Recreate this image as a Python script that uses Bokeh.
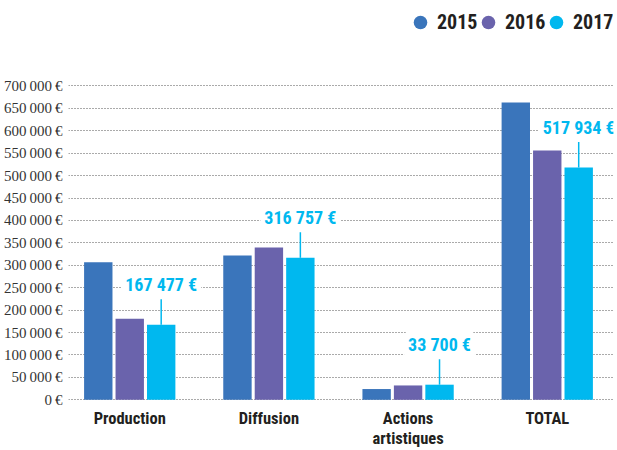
from bokeh.plotting import figure
from bokeh.models import (ColumnDataSource, FactorRange, Range1d, FixedTicker,
                          LabelSet, Legend, LegendItem)
from bokeh.core.properties import value
from bokeh.transform import dodge
from bokeh.embed import file_html
from bokeh.resources import INLINE

categories = ["Production", "Diffusion", "Actions\nartistiques", "TOTAL"]
years = ["2015", "2016", "2017"]
v2015 = [307000, 322000, 24000, 663000]
v2016 = [181000, 340000, 32000, 556000]
v2017 = [167477, 316757, 33700, 517934]
y_ticks = [0, 50000, 100000, 150000, 200000, 250000, 300000, 350000,
           400000, 450000, 500000, 550000, 600000, 650000, 700000]

colors = ["#3a75bb", "#6a63ac", "#00b8ef"]
DARK = "#231f20"
F_AXIS = "Liberation Sans Narrow"
F_BOLD = "Roboto Condensed"


def fmt(v):
    return f"{v:,}".replace(",", " ")


source = ColumnDataSource(dict(
    cat=categories,
    y2015=v2015,
    y2016=v2016,
    y2017=v2017,
    zero=[0] * len(categories),
    line_top=[v + 58000 for v in v2017],
    label=[fmt(v) + " €" for v in v2017],
))

W, H = 617, 450
xr = FactorRange(*categories, range_padding=-0.042, range_padding_units="absolute")
p = figure(x_range=xr, y_range=Range1d(-113094, 890698),
           width=W, height=H, output_backend="svg", toolbar_location=None,
           min_border_left=68, min_border_right=4, min_border_top=0,
           min_border_bottom=0)
p.outline_line_color = None
p.background_fill_color = "white"
p.border_fill_color = "white"

step = 0.226
bw = 0.204
shift = -0.018
for off, col, c in zip([-step, 0, step], ["y2015", "y2016", "y2017"], colors):
    p.vbar(x=dodge("cat", off + shift, range=p.x_range), top=col, width=bw,
           source=source, fill_color=c, line_color=None)

# annotation lines and labels for 2017
x17 = dodge("cat", step + shift, range=p.x_range)
p.segment(x0=x17, y0="y2017", x1=x17, y1="line_top",
          source=source, line_color=colors[2], line_width=1.5)
labels = LabelSet(x=x17, y="line_top", text="label",
                  source=source, y_offset=14, text_align="center",
                  text_baseline="middle", text_font=value(F_BOLD),
                  text_font_style="bold", text_font_size="18px",
                  text_color=colors[2],
                  background_fill_color="white", border_line_color="white",
                  border_line_width=8)
p.add_layout(labels)

# category labels under the bars
p.text(x=dodge("cat", shift, range=p.x_range), y="zero", text="cat", source=source,
       y_offset=9, text_align="center", text_baseline="top",
       text_font=value(F_BOLD), text_font_style="bold", text_font_size="16.5px",
       text_color=DARK, text_line_height=1.05)

# axes
p.xaxis.visible = False
p.xgrid.grid_line_color = None
p.ygrid.grid_line_color = "#555555"
p.ygrid.grid_line_dash = "1 2"
p.ygrid.grid_line_width = 1

p.yaxis.ticker = FixedTicker(ticks=y_ticks)
p.yaxis.major_label_overrides = {t: fmt(t).replace(" ", "\u2009") + "\u2009€" for t in y_ticks}
p.yaxis.axis_line_color = None
p.yaxis.major_tick_line_color = None
p.yaxis.minor_tick_line_color = None
p.yaxis.major_label_standoff = 0
p.yaxis.major_label_text_font = F_AXIS
p.yaxis.major_label_text_font_size = "15px"
p.yaxis.major_label_text_color = "#333333"
p.yaxis.major_label_text_baseline = "alphabetic"

# legend: one small legend per year, circles carried by zero-size markers
for i, (yr, c) in enumerate(zip(years, colors)):
    r = p.scatter(x="cat", y="zero", source=source, marker="circle", size=0,
                  fill_color=c, line_color=None)
    lg = Legend(items=[LegendItem(label=yr, renderers=[r])],
                location=(335 + 68 * i, 410),
                glyph_width=34, glyph_height=36, label_standoff=0, spacing=0,
                padding=0, margin=0, border_line_color=None,
                background_fill_alpha=0, label_text_font=F_BOLD,
                label_text_font_style="bold", label_text_font_size="20px",
                label_text_color=DARK)
    p.add_layout(lg)

open("out.html", "w").write(file_html(p, INLINE))
